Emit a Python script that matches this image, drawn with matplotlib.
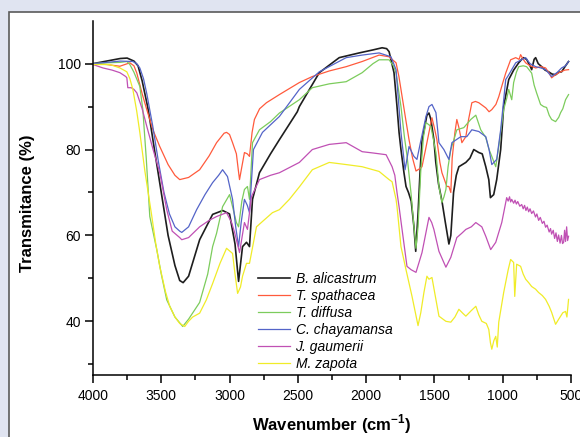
import matplotlib
matplotlib.use("Agg")
import matplotlib.pyplot as plt
from matplotlib.patches import Rectangle

plt.rcParams['font.family'] = ['Liberation Sans', 'DejaVu Sans']

# B. alicastrum
wn_bal = [4000, 3900, 3800, 3750, 3700, 3670, 3640, 3600, 3584, 3550, 3500, 3450, 3400, 3365, 3340,
          3300, 3219, 3124, 3050, 3000, 2960, 2934, 2905, 2876, 2854, 2832, 2781, 2700, 2635, 2504,
          2489, 2343, 2197, 2051, 1950, 1883, 1850, 1832, 1796, 1774, 1759, 1745, 1723, 1708, 1690,
          1670, 1650, 1637, 1620, 1605, 1591, 1555, 1540, 1526, 1504, 1490, 1470, 1445, 1420, 1394,
          1380, 1360, 1340, 1321, 1270, 1240, 1212, 1175, 1150, 1124, 1102, 1090, 1066, 1044, 1015,
          993, 956, 920, 883, 850, 825, 800, 788, 770, 759, 740, 715, 690, 664, 640, 613, 590, 569,
          540, 518]
t_bal = [100, 100.6, 101.2, 101.3, 100.6, 99.5, 96, 90, 87, 80, 70, 60, 53, 49.5, 49,
         50.5, 59, 64.9, 65.8, 65, 58, 49.3, 57.4, 58.4, 57.4, 68.4, 74.6, 79, 82.3, 88.8,
         90, 97.9, 101.4, 102.5, 103.2, 103.7, 103.5, 102.8, 97.9, 90, 84, 80, 74.6, 71.4, 70,
         68, 62, 56.3, 65, 75, 82, 88, 88.5, 87, 82.3, 77, 72, 68, 63, 58,
         60, 70, 74, 76, 77, 78, 80, 79.3, 79, 76, 73, 68.8, 69.5, 73, 80,
         90, 96.3, 98.5, 100.2, 101.4, 101, 99.5, 98.6, 101, 101.4, 100, 99.3, 98.5, 98.1, 97.6, 97.4, 98, 98.1,
         99.5, 100.5]

# T. spathacea
wn_tsp = [4000, 3900, 3803, 3730, 3700, 3679, 3640, 3606, 3560, 3511, 3450, 3400, 3365, 3300, 3219,
          3150, 3095, 3040, 3022, 3000, 2978, 2950, 2935, 2927, 2910, 2891, 2870, 2854, 2835, 2818,
          2780, 2730, 2635, 2489, 2394, 2270, 2146, 2029, 1905, 1832, 1781, 1760, 1737, 1710, 1686,
          1660, 1635, 1610, 1591, 1565, 1540, 1518, 1500, 1482, 1460, 1445, 1409, 1394, 1380, 1370,
          1350, 1336, 1320, 1299, 1270, 1250, 1226, 1200, 1175, 1124, 1100, 1080, 1050, 1029, 1000,
          978, 942, 905, 880, 869, 850, 832, 800, 759, 720, 686, 660, 642, 610, 576, 545, 518]
t_tsp = [100, 99.8, 99.4, 100.2, 99.5, 97.8, 93, 89.3, 84.5, 80.7, 76.5, 74, 73, 73.5, 75.3,
         78.5, 81.6, 83.8, 84, 83.5, 81.6, 79, 75, 73, 76, 79.3, 79, 78.4, 84, 87,
         89.5, 90.9, 92.8, 95.6, 97, 98.3, 99.3, 100.5, 102, 101.6, 100.2, 97, 92.4, 87, 82.3,
         78, 75, 75.5, 76, 80, 84, 87.4, 85, 82.3, 77, 74.6, 71.4, 71.4, 70, 78,
         84, 87, 85, 81.6, 83, 87, 90.9, 91.2, 90.9, 89.7, 88.8, 89.3, 90.5, 92.3, 95.5,
         97.8, 100.9, 101.4, 101, 102.1, 101, 100.2, 99.5, 99, 99.3, 99, 97.8, 96.7, 97.5, 98.1, 98.5, 98.6]

# T. diffusa
wn_tdi = [4000, 3900, 3800, 3752, 3730, 3700, 3657, 3635, 3610, 3584, 3533, 3500, 3460, 3400, 3343,
          3300, 3219, 3160, 3124, 3095, 3051, 3000, 2978, 2950, 2934, 2910, 2891, 2869, 2854, 2832,
          2781, 2700, 2635, 2489, 2394, 2270, 2146, 2029, 1950, 1905, 1832, 1800, 1781, 1745, 1720,
          1700, 1672, 1650, 1635, 1620, 1600, 1580, 1562, 1526, 1489, 1467, 1445, 1430, 1416, 1400,
          1380, 1360, 1336, 1285, 1234, 1197, 1161, 1124, 1100, 1080, 1051, 1029, 993, 970, 956,
          934, 920, 900, 883, 850, 825, 788, 770, 752, 723, 700, 679, 660, 642, 613, 590, 576,
          560, 540, 518]
t_tdi = [100, 100.2, 100.3, 100.5, 99.8, 98, 94.7, 89.3, 78, 64.4, 56.7, 51, 45, 41, 38.8,
         40.5, 44.4, 51, 57.4, 60.5, 66.7, 69.5, 66.7, 63, 62, 68, 70.7, 71.4, 68.4, 81.6,
         84.6, 86.5, 88.5, 91.6, 94.4, 95.3, 95.8, 97.9, 100, 100.9, 100.9, 99.5, 97.8, 90, 83,
         78.4, 70, 62, 57, 62, 75, 83, 86.3, 85.4, 79.3, 71.4, 67.7, 69, 70.7, 76,
         80, 82, 84.6, 85.1, 87, 88, 84.6, 82.8, 80, 78.4, 76, 80.7, 89.3, 92, 94,
         91.6, 95.6, 98, 99.3, 99.5, 99.3, 97.8, 95, 93.2, 90.5, 90, 89.8, 88, 87, 86.5, 87.5, 88.6,
         89.5, 91.6, 92.8]

# C. chayamansa
wn_cch = [4000, 3900, 3800, 3708, 3680, 3657, 3630, 3606, 3562, 3520, 3480, 3440, 3400, 3365, 3350,
          3300, 3241, 3180, 3124, 3080, 3051, 3015, 2978, 2955, 2934, 2915, 2891, 2870, 2854, 2825,
          2759, 2635, 2489, 2343, 2146, 2029, 1905, 1818, 1781, 1760, 1745, 1715, 1700, 1686, 1650,
          1628, 1600, 1562, 1540, 1518, 1489, 1467, 1431, 1394, 1372, 1307, 1263, 1226, 1175, 1124,
          1100, 1080, 1044, 1015, 978, 956, 905, 832, 800, 759, 720, 686, 642, 600, 569, 540, 518]
t_cch = [100, 100.3, 100.6, 100.5, 100, 99, 96.5, 93, 85.4, 77, 70, 65, 62, 61, 60.7,
         62, 66, 69.5, 72.3, 74, 75.3, 73.7, 68.4, 62, 57.4, 63, 68.4, 67, 65.3, 80,
         84, 87.7, 94, 98.1, 101.4, 102, 102.5, 101.6, 98.6, 90, 84, 75.3, 78, 80.7, 78.4,
         77.7, 82, 87.7, 90, 90.5, 88.6, 81.6, 80, 77.7, 81.6, 83, 83, 84.6, 84.2, 83,
         80, 76.5, 77.7, 84.6, 96.3, 97.4, 100.2, 101.4, 100, 99.3, 99, 98.6, 97, 98, 99, 99.5, 100.5]

# J. gaumerii
wn_jga = [4000, 3927, 3860, 3803, 3760, 3752, 3745, 3720, 3700, 3679, 3640, 3606, 3560, 3511, 3460,
          3420, 3365, 3350, 3300, 3219, 3150, 3095, 3022, 2985, 2963, 2927, 2891, 2869, 2840, 2781,
          2700, 2635, 2489, 2394, 2270, 2146, 2029, 1950, 1854, 1810, 1790, 1774, 1759, 1737, 1701,
          1670, 1635, 1610, 1591, 1560, 1540, 1520, 1504, 1467, 1416, 1380, 1336, 1300, 1270, 1230,
          1197, 1153, 1124, 1088, 1051, 1007, 971, 960, 950, 942, 934, 920, 910, 900, 890, 875,
          861, 850, 840, 830, 820, 810, 800, 788, 775, 760, 750, 737, 725, 710, 698, 686,
          675, 660, 650, 642, 630, 620, 610, 600, 591, 580, 570, 562, 554, 547, 540, 532, 525, 518]
t_jga = [99.8, 99, 98.5, 97.9, 97, 96.7, 94.4, 94.4, 94, 93.2, 89.5, 85.4, 80, 74.6, 66,
         61, 59.5, 59, 59.5, 62, 63.5, 64.4, 65.3, 63, 60.7, 56, 63, 61.4, 69, 73,
         74, 74.6, 77, 80, 81.2, 81.6, 79.5, 79.2, 78.8, 76, 74, 70, 66.7, 61.4, 52.8,
         52, 51.4, 54, 56, 61, 64.2, 63, 61.4, 56.3, 52.6, 54.9, 59.5, 60.5, 61.4, 62,
         63, 62, 59.8, 56.7, 58.4, 63, 68.8, 68, 69, 67.8, 68.4, 67.5, 68.2, 67.3, 67.9, 66.8,
         67.2, 66.2, 67, 65.8, 66.6, 65.5, 66.2, 65.1, 65.7, 64.3, 65, 63.5, 64.2, 62.8, 63.3, 61.9,
         62.4, 60.8, 61.6, 60.3, 61.2, 59.3, 60.6, 58.6, 60.1, 58.2, 60, 58.1, 58.4, 61.2, 58.6, 62, 58.8, 59.8]

# M. zapota
wn_mza = [4000, 3876, 3803, 3752, 3730, 3708, 3680, 3657, 3620, 3569, 3540, 3511, 3470, 3438, 3400,
          3365, 3328, 3300, 3270, 3219, 3170, 3124, 3070, 3022, 2978, 2960, 2941, 2920, 2905, 2876,
          2854, 2803, 2750, 2686, 2635, 2562, 2489, 2394, 2270, 2146, 2029, 1905, 1832, 1810, 1781,
          1774, 1745, 1708, 1664, 1620, 1600, 1577, 1555, 1540, 1518, 1500, 1467, 1416, 1380, 1350,
          1321, 1290, 1270, 1230, 1197, 1175, 1153, 1120, 1102, 1090, 1080, 1065, 1051, 1040, 1029,
          993, 960, 942, 920, 912, 898, 869, 850, 832, 810, 788, 760, 737, 710, 686, 660, 642,
          613, 590, 576, 560, 540, 530, 518]
t_mza = [99.8, 99.8, 99, 98.1, 96.5, 94, 89, 84, 75, 64.4, 58, 52.8, 47, 43.5, 41,
         39.5, 38.8, 40, 41, 41.9, 45, 48.8, 53.5, 57, 55.8, 51, 46.5, 48, 50.5, 53.5,
         53.5, 62, 63.5, 65.3, 66, 68.4, 71.3, 75.3, 77, 76.5, 76, 74.9, 73, 72.5, 68.4,
         66.7, 57.4, 52, 45.8, 39, 42, 46.7, 50.5, 49.8, 50.2, 47, 41.2, 40, 39.8, 41,
         42.8, 41.8, 41.2, 42.5, 43.5, 41.5, 40, 39.5, 38.1, 35, 33.5, 35.5, 36.5, 34, 39.8,
         46.7, 52, 54.4, 53.7, 45.8, 53.3, 52.8, 51, 49.8, 49, 48.1, 47.5, 46.7, 46, 45.1, 43.5, 42.1,
         39.3, 40.5, 41.2, 42, 42.3, 41, 45.1]

series = [
    (wn_bal, t_bal, 'B. alicastrum', '#1e1e1e', 1.2),
    (wn_tsp, t_tsp, 'T. spathacea', '#ff5a3c', 0.9),
    (wn_tdi, t_tdi, 'T. diffusa', '#7ccc5c', 0.9),
    (wn_cch, t_cch, 'C. chayamansa', '#5464c8', 0.9),
    (wn_jga, t_jga, 'J. gaumerii', '#c050b4', 0.9),
    (wn_mza, t_mza, 'M. zapota', '#f0ec28', 0.9),
]

fig = plt.figure(figsize=(5.8, 4.37), dpi=100, facecolor='#e0e4f1')
# white panel behind the plot
fig.patches.append(Rectangle((9 / 580, -0.2), 1.5, 0.9725 + 0.2, transform=fig.transFigure,
                             facecolor='white', edgecolor='#5a5a5a', linewidth=1.2, zorder=-5))

ax = fig.add_axes([0.1603, 0.1419, 0.8242, 0.8107])
ax.set_facecolor('none')
ax.set_zorder(2)

for wn, t, name, col, lw in series:
    ax.plot(wn, t, color=col, lw=lw, label=name)

ax.set_xlim(4000, 500)
ax.set_ylim(27.5, 110)
ax.set_xticks([4000, 3500, 3000, 2500, 2000, 1500, 1000, 500])
ax.set_xticks([3750, 3250, 2750, 2250, 1750, 1250, 750], minor=True)
ax.set_yticks([40, 60, 80, 100])
ax.set_yticks([30, 50, 70, 90], minor=True)

for s in ['top', 'right']:
    ax.spines[s].set_visible(False)
for s in ['left', 'bottom']:
    ax.spines[s].set_linewidth(1.1)

ax.tick_params(which='major', length=6, width=1.1, labelsize=10, pad=2.5)
ax.tick_params(which='minor', length=3.5, width=1.1)
ax.tick_params(axis='x', which='major', pad=4)

ax.set_xlabel('Wavenumber (cm$^{\\mathregular{-1}}$)', fontsize=12, fontweight='bold', labelpad=7)
ax.set_ylabel('Transmitance (%)', fontsize=12, fontweight='bold')
ax.yaxis.set_label_coords(-0.121, 0.484)

leg = ax.legend(loc='upper left', bbox_to_anchor=(258 / 580, 1 - 272 / 437),
                bbox_transform=fig.transFigure, frameon=False, fontsize=10,
                handlelength=2.3, handletextpad=0.4, labelspacing=0.22, borderpad=0,
                borderaxespad=0)
for txt in leg.get_texts():
    txt.set_fontstyle('italic')

fig.savefig('out.png', dpi=100, facecolor=fig.get_facecolor())
